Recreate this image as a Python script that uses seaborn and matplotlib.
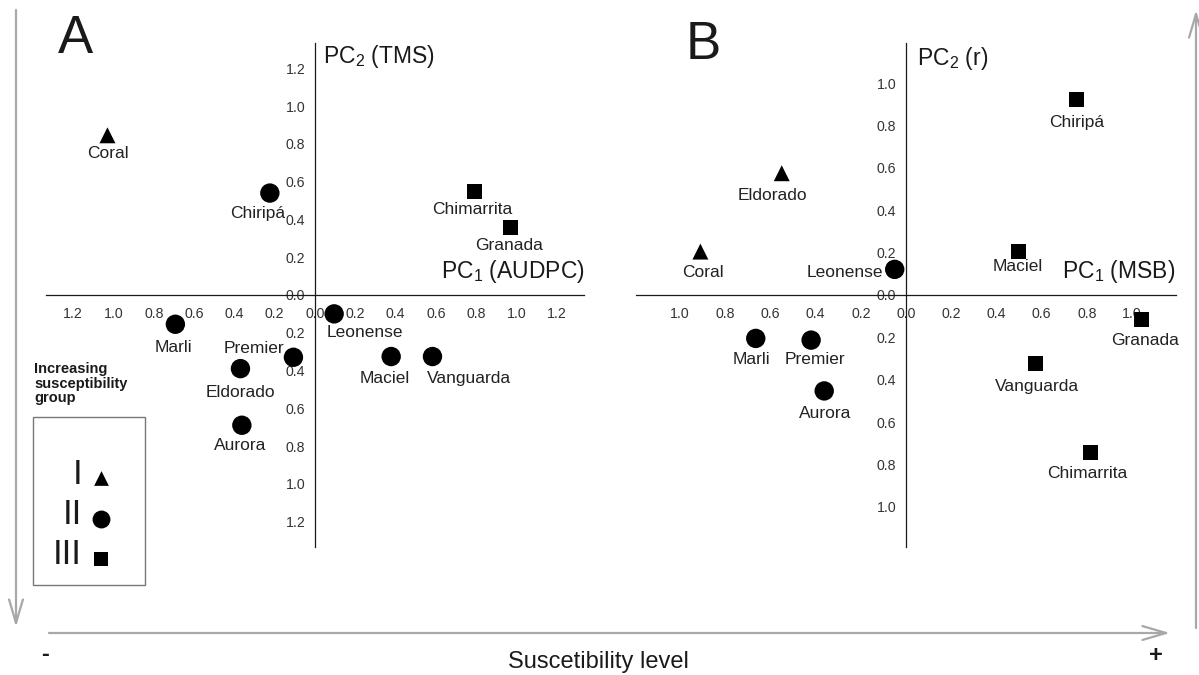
import numpy as np
import pandas as pd
import seaborn as sns
import matplotlib.pyplot as plt
from matplotlib.ticker import FixedLocator, FuncFormatter
from matplotlib.patches import Rectangle

# ─── Data ────────────────────────────────────────────────────────────
cultivars = ["Coral", "Chiripá", "Chimarrita", "Granada", "Leonense", "Marli",
             "Premier", "Eldorado", "Aurora", "Maciel", "Vanguarda"]

# panel A : PC1 (AUDPC) vs PC2 (TMS)
pc1_a = [-1.03, -0.224, 0.79, 0.972, 0.095, -0.693, -0.107, -0.37, -0.363, 0.378, 0.583]
pc2_a = [0.846, 0.54, 0.546, 0.358, -0.10, -0.155, -0.33, -0.39, -0.69, -0.326, -0.326]
group_a = ["I", "II", "III", "III", "II", "II", "II", "II", "II", "II", "II"]

# panel B : PC1 (MSB) vs PC2 (r)
pc1_b = [-0.91, 0.753, 0.818, 1.043, -0.05, -0.665, -0.42, -0.55, -0.362, 0.497, 0.573]
pc2_b = [0.205, 0.921, -0.743, -0.118, 0.121, -0.205, -0.213, 0.575, -0.453, 0.205, -0.323]
group_b = ["I", "III", "III", "III", "II", "II", "II", "I", "II", "III", "III"]

groups = ["I", "II", "III"]
ticks_a = [-1.2, -1.0, -0.8, -0.6, -0.4, -0.2, 0.0, 0.2, 0.4, 0.6, 0.8, 1.0, 1.2]
ticks_b = [-1.0, -0.8, -0.6, -0.4, -0.2, 0.0, 0.2, 0.4, 0.6, 0.8, 1.0]

# ─── Style ───────────────────────────────────────────────────────────
MARKERS = {"I": "^", "II": "o", "III": "s"}
SIZES = {"I": 132, "II": 195, "III": 117}
INK = "#1a1a1a"
GREY = "#a8a8a8"

# label offsets in pixels (dx right, dy down), optional alignment
OFFSET_A = {"Coral": (0, 18), "Chiripá": (-12, 20), "Chimarrita": (-2, 18),
            "Granada": (-2, 18), "Leonense": (31, 19), "Marli": (-2, 23),
            "Premier": (-40, -9), "Eldorado": (0, 24), "Aurora": (-2, 20),
            "Maciel": (-6, 22), "Vanguarda": (37, 22)}
OFFSET_B = {"Coral": (3, 21), "Chiripá": (1, 23), "Chimarrita": (-4, 21),
            "Granada": (3, 21), "Leonense": (-12, 3, "right"), "Marli": (-4, 21),
            "Premier": (4, 19), "Eldorado": (-9, 22), "Aurora": (1, 23),
            "Maciel": (-1, 15), "Vanguarda": (2, 23)}

sns.set_style("white")
plt.rcParams["font.family"] = ["Liberation Sans", "DejaVu Sans"]
plt.rcParams["mathtext.fontset"] = "custom"
plt.rcParams["mathtext.rm"] = "Liberation Sans"

W, H = 1199, 675
fig = plt.figure(figsize=(W / 100, H / 100), dpi=100)
fig.patch.set_facecolor("white")


def px_box(x0, y0, x1, y1):
    return [x0 / W, 1 - y1 / H, (x1 - x0) / W, (y1 - y0) / H]


def biplot(ax, df, lim, ticks, offsets):
    sns.scatterplot(data=df, x="pc1", y="pc2", style="group", markers=MARKERS,
                    size="group", sizes=SIZES, hue="group",
                    palette={g: "black" for g in groups}, hue_order=groups,
                    style_order=groups, size_order=groups,
                    linewidth=0, legend=False, ax=ax, zorder=5, clip_on=False)
    for r in df.itertuples():
        off = offsets[r.name]
        ha = off[2] if len(off) > 2 else "center"
        ax.annotate(r.name, (r.pc1, r.pc2), xytext=(off[0] * 0.72, -off[1] * 0.72),
                    textcoords="offset points", ha=ha, va="center",
                    fontsize=12.5, color="#222222", zorder=4)

    ax.set_xlim(-lim[0], lim[0])
    ax.set_ylim(-lim[1], lim[1])
    ax.set_facecolor("none")
    for s in ["top", "right"]:
        ax.spines[s].set_visible(False)
    for s in ["left", "bottom"]:
        ax.spines[s].set_position("zero")
        ax.spines[s].set_color(INK)
        ax.spines[s].set_linewidth(0.9)
    fmt = FuncFormatter(lambda v, _: f"{abs(v):.1f}")
    ax.xaxis.set_major_locator(FixedLocator(ticks))
    ax.yaxis.set_major_locator(FixedLocator(ticks))
    ax.xaxis.set_major_formatter(fmt)
    ax.yaxis.set_major_formatter(fmt)
    ax.tick_params(axis="both", direction="out", length=4, width=0.8, color=INK,
                   labelsize=10.2, labelcolor="#333333")
    ax.tick_params(axis="x", pad=5)
    ax.tick_params(axis="y", pad=3)
    ax.set_xlabel("")
    ax.set_ylabel("")


df_a = pd.DataFrame({"name": cultivars, "pc1": pc1_a, "pc2": pc2_a, "group": group_a})
df_b = pd.DataFrame({"name": cultivars, "pc1": pc1_b, "pc2": pc2_b, "group": group_b})

ax_a = fig.add_axes(px_box(46, 43, 584, 547))
biplot(ax_a, df_a, (1.335, 1.335), ticks_a, OFFSET_A)

ax_b = fig.add_axes(px_box(636, 43, 1176, 547))
biplot(ax_b, df_b, (1.195, 1.19), ticks_b, OFFSET_B)

# ─── Overlay in pixel coordinates: titles, legend, arrows ────────────
ov = fig.add_axes([0, 0, 1, 1])
ov.set_xlim(0, W)
ov.set_ylim(H, 0)
ov.axis("off")
ov.patch.set_visible(False)

ov.text(58, 53, "A", fontsize=38, color=INK, va="baseline")
ov.text(686, 59, "B", fontsize=38, color=INK, va="baseline")

ov.text(323, 63, r"PC$_\mathregular{2}$ (TMS)", fontsize=16.5, color=INK, va="baseline")
ov.text(585, 278, r"PC$_\mathregular{1}$ (AUDPC)", fontsize=16.5, color=INK,
        va="baseline", ha="right")
ov.text(917, 65, r"PC$_\mathregular{2}$ (r)", fontsize=16.5, color=INK, va="baseline")
ov.text(1175, 278, r"PC$_\mathregular{1}$ (MSB)", fontsize=16.5, color=INK,
        va="baseline", ha="right")

# legend
ov.text(34, 362, "Increasing\nsusceptibility\ngroup", fontsize=10.5,
        fontweight="bold", color=INK, va="top", ha="left", linespacing=1.05)
ov.add_patch(Rectangle((33, 417), 112, 168, fill=False, edgecolor="#777777", lw=1))
for g, yy in zip(groups, [474, 515, 555]):
    ov.text(82, yy, g, fontsize=25, color=INK, ha="right", va="center")
    ov.scatter([101], [yy + 4], marker=MARKERS[g], s=SIZES[g] * 0.85,
               color="black", linewidths=0)

# susceptibility arrows
arrow = dict(arrowstyle="->,head_length=1.7,head_width=0.5", mutation_scale=10,
             color=GREY, lw=1.6, shrinkA=0, shrinkB=0)
ov.annotate("", xy=(16, 627), xytext=(16, 10), arrowprops=arrow)
ov.annotate("", xy=(1170, 633), xytext=(49, 633), arrowprops=arrow)
ov.annotate("", xy=(1196, 10), xytext=(1196, 628), arrowprops=arrow)

ov.text(45, 654, "-", fontsize=17, fontweight="bold", color=INK, ha="center", va="center")
ov.text(1156, 656, "+", fontsize=17, fontweight="bold", color=INK, ha="center", va="center")
ov.text(598, 662, "Suscetibility level", fontsize=17, color=INK, ha="center", va="center")

fig.savefig("out.png", dpi=100)
